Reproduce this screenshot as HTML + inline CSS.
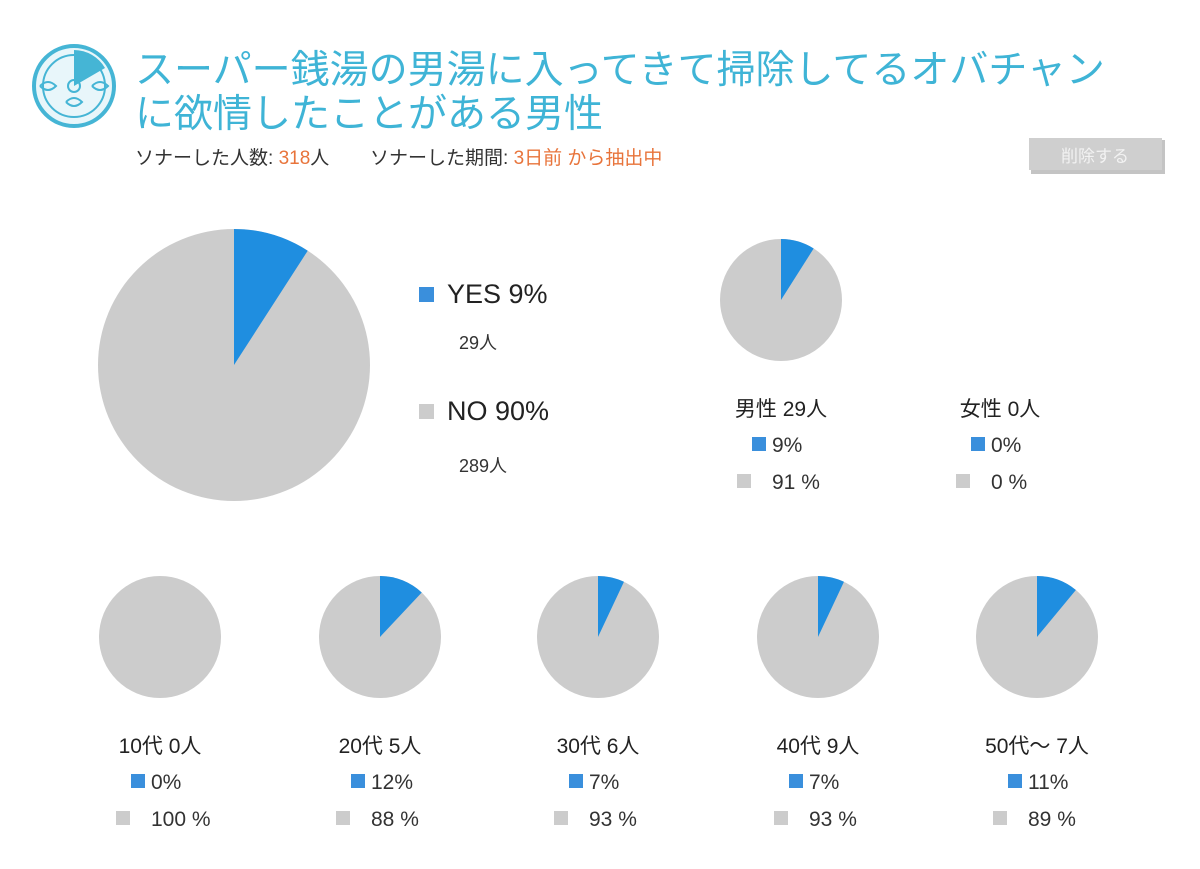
<!DOCTYPE html>
<html><head><meta charset="utf-8"><style>
body{margin:0;background:#fff;}
svg{display:block;font-family:"Liberation Sans","Noto Sans CJK JP",sans-serif;}
</style></head><body>
<svg id="c" width="1200" height="869" viewBox="0 0 1200 869">
<g>
<circle cx="74" cy="86" r="40" fill="#e8f6fa" stroke="#45b5d5" stroke-width="4"/>
<circle cx="74" cy="86" r="31" fill="none" stroke="#45b5d5" stroke-width="2"/>
<path d="M74 86 L74 50 A36 36 0 0 1 105 68 Z" fill="#45b5d5"/>
<circle cx="74" cy="86" r="6" fill="none" stroke="#45b5d5" stroke-width="2"/>
<path d="M40 86 q8 -8 16 0 q-8 8 -16 0 M92 86 q8 -8 16 0 q-8 8 -16 0 M66 102 q8 -8 16 0 q-8 8 -16 0" fill="none" stroke="#45b5d5" stroke-width="2"/>
</g>
<text x="135" y="83" font-size="39" fill="#3fb4d6">スーパー銭湯の男湯に入ってきて掃除してるオバチャン</text>
<text x="135" y="127" font-size="39" fill="#3fb4d6">に欲情したことがある男性</text>
<text x="135" y="164" font-size="19" fill="#333">ソナーした人数: <tspan fill="#e8743b">318</tspan>人</text>
<text x="370" y="164" font-size="19" fill="#333">ソナーした期間: <tspan fill="#e8743b">3日前 から抽出中</tspan></text>
<g>
<rect x="1031" y="140" width="134" height="34" fill="#c4c4c4"/>
<rect x="1029" y="138" width="133" height="32" fill="#cfcfcf"/>
<text x="1095" y="162" font-size="17" fill="#f2f2f2" text-anchor="middle">削除する</text>
</g>
<g id="pies"></g>
</svg>
<script>
const yesColor="#1f8ee0", noColor="#cccccc";
const mainYes=29, mainNo=289;
const mainYesPct="9%", mainNoPct="90%";
const groupLabels=["男性 29人","女性 0人","10代 0人","20代 5人","30代 6人","40代 9人","50代〜 7人"];
const groupYes=[9,0,0,12,7,7,11];
const groupNo=[91,0,100,88,93,93,89];
const groupYesText=["9%","0%","0%","12%","7%","7%","11%"];
const groupNoText=["91 %","0 %","100 %","88 %","93 %","93 %","89 %"];
const groupNames=["male","female","10s","20s","30s","40s","50s-plus"];
const layout=[[781,300],[1000,300],[160,637],[380,637],[598,637],[818,637],[1037,637]];
const NS="http://www.w3.org/2000/svg";
const g=document.getElementById('pies');
function mk(t,a,p){const e=document.createElementNS(NS,t);for(const k in a)e.setAttribute(k,a[k]);(p||g).appendChild(e);return e;}
function pie(cx,cy,r,yes,no,name){
  const grp=mk('g',{});
  
  
  const tot=yes+no; if(tot<=0) return;
  const base=mk('circle',{cx,cy,r,fill:noColor},grp);
  
  
  const f=yes/tot;
  if(f>0){
    const a=f*2*Math.PI;
    const x=cx+r*Math.sin(a), y=cy-r*Math.cos(a);
    const s=mk('path',{d:`M${cx} ${cy} L${cx} ${cy-r} A${r} ${r} 0 ${f>0.5?1:0} 1 ${x} ${y} Z`,fill:yesColor},grp);
    
    
  }
}
function txt(x,y,s,size,fill,anchor,name){const t=mk('text',{x,y,'font-size':size,fill,'text-anchor':anchor||'start'});t.textContent=s;
  
  return t;}
pie(234,365,136,mainYes,mainNo,'overall');
mk('rect',{x:419,y:287,width:15,height:15,fill:"#3a8fdc"});
txt(447,303,"YES "+mainYesPct,27,"#222","start","legend-yes");
txt(459,349,mainYes+"人",18,"#333","start","yes-count");
mk('rect',{x:419,y:404,width:15,height:15,fill:noColor});
txt(447,420,"NO "+mainNoPct,27,"#222","start","legend-no");
txt(459,472,mainNo+"人",18,"#333","start","no-count");
groupLabels.forEach((lab,i)=>{
  const [cx,cy]=layout[i];
  pie(cx,cy,61,groupYes[i],groupNo[i],groupNames[i]);
  const ly=cy+116;
  txt(cx,ly,lab,21,"#222","middle",groupNames[i]+"-label");
  mk('rect',{x:cx-29,y:ly+21,width:14,height:14,fill:"#3a8fdc"});
  txt(cx-9,ly+36,groupYesText[i],21,"#333","start",groupNames[i]+"-yes-pct");
  mk('rect',{x:cx-44,y:ly+58,width:14,height:14,fill:noColor});
  txt(cx-9,ly+73,groupNoText[i],21,"#333","start",groupNames[i]+"-no-pct");
});
</script>
</body></html>
